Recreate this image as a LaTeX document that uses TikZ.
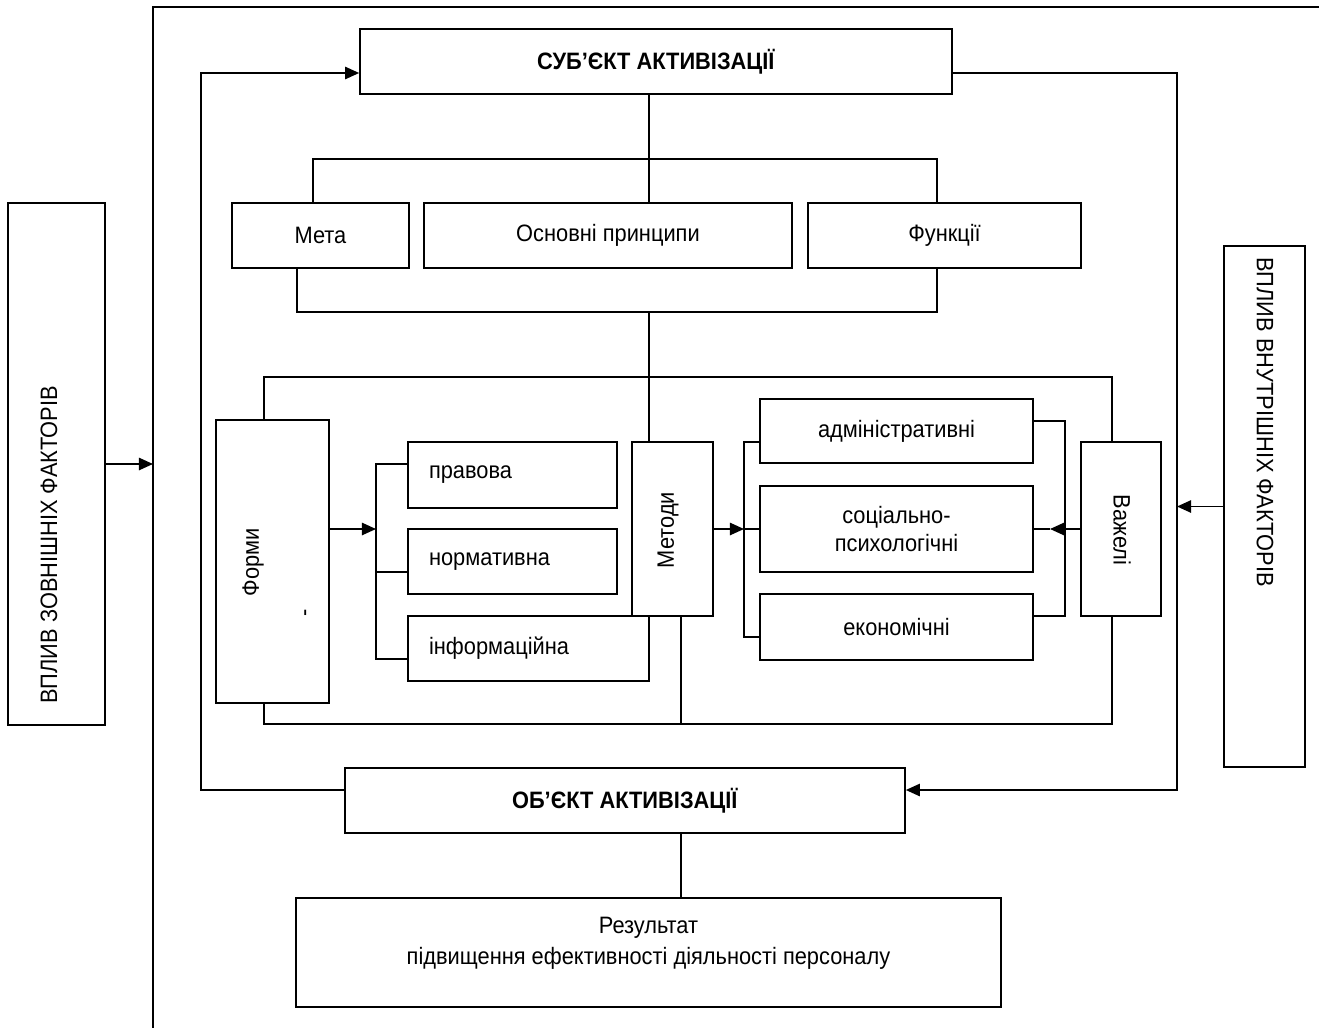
\documentclass[tikz,border=0pt]{standalone}
\usepackage{fontspec}
\setmainfont{Liberation Sans}[FakeStretch=0.92]
\usetikzlibrary{positioning,arrows.meta,calc}

\begin{document}
\begin{tikzpicture}[x=0.02cm, y=-0.02cm,
    font=\fontsize{13.5}{15}\selectfont,
    box/.style={draw, line width=1pt, inner sep=0pt, align=center},
    subbox/.style={draw, line width=1.4pt, inner xsep=0.42cm, inner ysep=0pt, align=left},
    caption/.style={inner sep=0pt},
    link/.style={line width=1pt},
    arrow/.style={line width=1pt, -{Triangle[length=8pt,width=7pt]}},
]
\useasboundingbox (0,0) rectangle (1319,1028);

% Outer frame
\draw[link] (153,1028) -- (153,7) -- (1319,7);

% Subject and object
\node[box, minimum width=11.84cm, minimum height=1.3cm] (subject) at (656,61.5) {\textbf{СУБ’ЄКТ АКТИВІЗАЦІЇ}};
\node[box, minimum width=11.2cm, minimum height=1.3cm] (object) at (625,800.5) {\textbf{ОБ’ЄКТ АКТИВІЗАЦІЇ}};
\node[box, minimum width=14.1cm, minimum height=2.18cm] (result) at (648.5,952.5) {};
\node[caption, align=center, font=\fontsize{13.5}{17.5}\selectfont] (resultText) at (648.5,943) {Результат\\підвищення ефективності діяльності персоналу};

% Row: goal, principles, functions
\node[box, minimum width=3.54cm, minimum height=1.3cm] (goal) at (320.5,235.5) {Мета};
\node[box, minimum width=7.36cm, minimum height=1.3cm] (principles) at (608,235.5) {Основні принципи};
\node[box, minimum width=5.46cm, minimum height=1.3cm] (functions) at (944.5,235.5) {Функції};

% Forms
\node[box, minimum width=2.26cm, minimum height=5.66cm] (forms) at (272.5,561.5) {};
\node[caption, rotate=90] (formsText) at (253,562) {Форми};
\node[caption, rotate=90] (stray) at (308,613) {-};
\node[subbox, text width=3.34cm, minimum height=1.32cm] (legal) at (512.5,475) {правова};
\node[subbox, text width=3.34cm, minimum height=1.3cm] (normative) at (512.5,561.5) {нормативна};
\node[subbox, text width=3.98cm, minimum height=1.3cm] (info) at (528.5,648.5) {інформаційна};

% Methods
\node[box, minimum width=1.62cm, minimum height=3.48cm] (methods) at (672.5,529) {};
\node[caption, rotate=90] (methodsText) at (668,530) {Методи};
\node[subbox, align=center, inner xsep=0pt, minimum width=5.46cm, minimum height=1.28cm] (admin) at (896.5,431) {адміністративні};
\node[subbox, align=center, inner xsep=0pt, minimum width=5.46cm, minimum height=1.72cm, font=\fontsize{13.5}{16}\selectfont] (social) at (896.5,529) {соціально-\\психологічні};
\node[subbox, align=center, inner xsep=0pt, minimum width=5.46cm, minimum height=1.32cm] (econ) at (896.5,627) {економічні};

% Levers
\node[box, minimum width=1.6cm, minimum height=3.48cm] (levers) at (1121,529) {};
\node[caption, rotate=-90] (leversText) at (1122,530) {Важелі};

% External and internal factors
\node[box, minimum width=1.94cm, minimum height=10.44cm] (external) at (56.5,464) {};
\node[caption, rotate=90, anchor=west] (externalText) at (49,704) {ВПЛИВ ЗОВНІШНІХ ФАКТОРІВ};
\node[box, minimum width=1.62cm, minimum height=10.42cm] (internal) at (1264.5,506.5) {};
\node[caption, rotate=-90, anchor=west] (internalText) at (1265,257) {ВПЛИВ ВНУТРІШНІХ ФАКТОРІВ};

% Bend points
\coordinate (frameIn) at (153,464);
\coordinate (loopL) at (201,400);
\coordinate (loopR) at (1177,400);
\coordinate (busT) at (649,159);
\coordinate (busB) at (649,312);
\coordinate (ringT) at (649,377);
\coordinate (ringB) at (681,724);
\coordinate (brF) at (376,529);
\coordinate (brM) at (744,529);
\coordinate (brL) at (1065,529);
\coordinate (tipL) at (1050,529);

% Arrows
\draw[arrow] (external.east) -- (frameIn);
\draw[arrow] (internal.west) -- (internal.west -| loopR);
\draw[arrow] ([yshift=0.21cm]object.west) -| (loopL) |- ([yshift=-0.23cm]subject.west);
\draw[arrow] ([yshift=-0.23cm]subject.east) -| (loopR) |- ([yshift=0.21cm]object.east);
\draw[link] (subject.south -| busT) -- (principles.north -| busT);
\draw[link] ([xshift=-0.15cm]goal.north) |- (busT) -| ([xshift=-0.15cm]functions.north);
\draw[link] ([xshift=-0.47cm]goal.south) |- (busB) -| ([xshift=-0.15cm]functions.south);
\draw[link] (busB) -- (methods.north -| busB);
\draw[link] ([xshift=-0.17cm]forms.north) |- (ringT) -| ([xshift=-0.18cm]levers.north);
\draw[link] ([xshift=-0.17cm]forms.south) |- (ringB) -| ([xshift=-0.18cm]levers.south);
\draw[link] ([xshift=0.17cm]methods.south) -- (ringB);
\draw[arrow] ([yshift=0.65cm]forms.east) -- (brF);
\draw[link] ([yshift=0.22cm]legal.west) -| (brF) |- ([yshift=-0.21cm]info.west);
\draw[link] ([yshift=-0.21cm]normative.west) -- ++(-32,0);
\draw[arrow] (methods.east) -- (brM);
\draw[link] (brM) -- (social.west);
\draw[link] ([yshift=-0.22cm]admin.west) -| (brM) |- ([yshift=-0.2cm]econ.west);
\draw[arrow] (levers.west) -- (tipL);
\draw[link] (tipL) -- (social.east);
\draw[link] ([yshift=0.2cm]admin.east) -| (brL) |- ([yshift=0.22cm]econ.east);
\draw[link] ([xshift=1.12cm]object.south) -- ([xshift=0.65cm]result.north);

\end{tikzpicture}
\end{document}
